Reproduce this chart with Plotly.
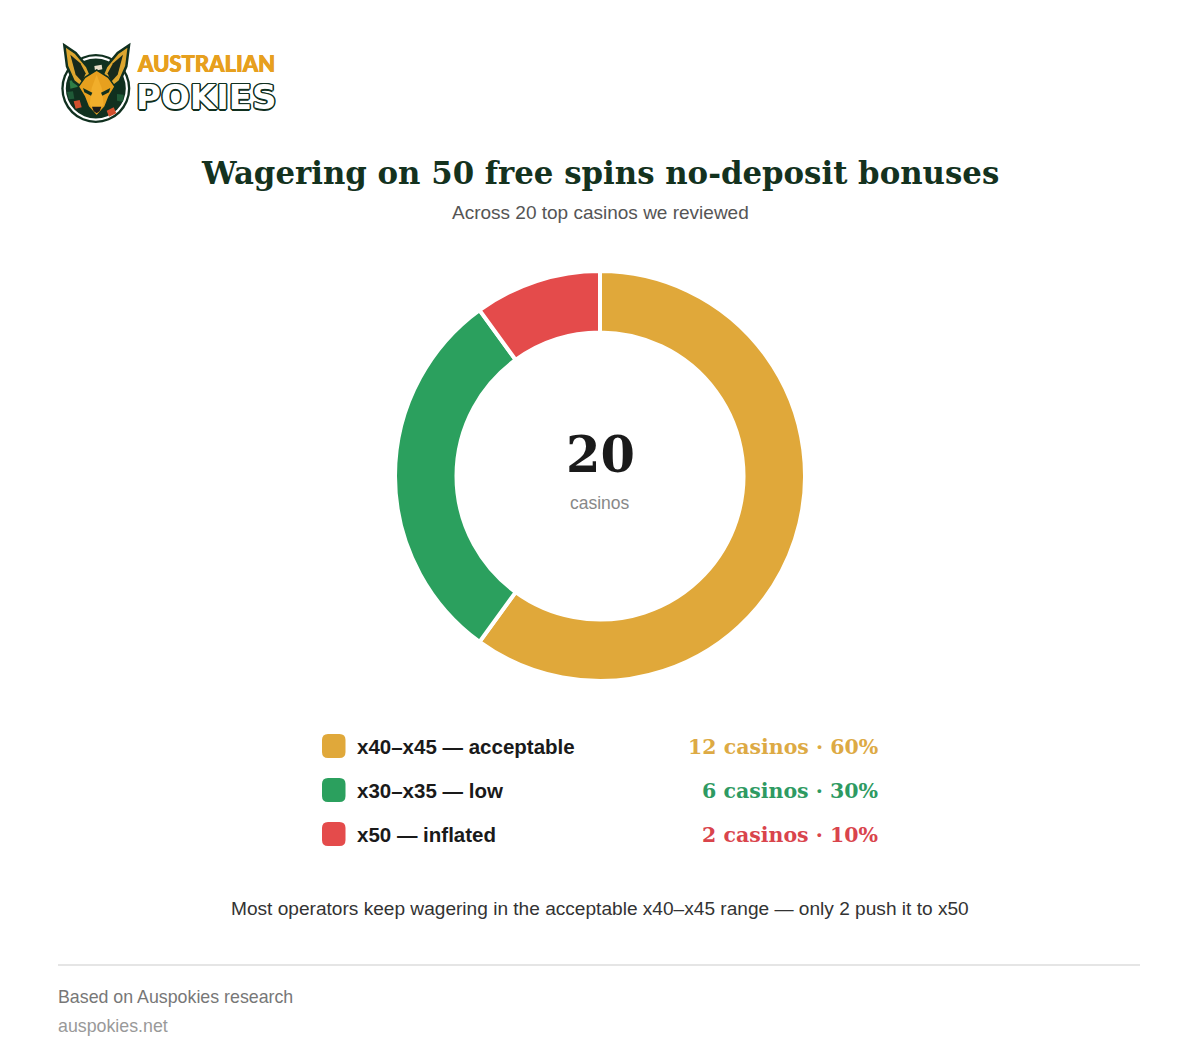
import plotly.graph_objects as go

# page has an 8px body margin, so the figure is a bit smaller than the window
W, H = 1184, 1046
OFFSET = 8

# chart data
categories = ["x40–x45 — acceptable", "x30–x35 — low", "x50 — inflated"]
casino_counts = [12, 6, 2]
percents = [60, 30, 10]
total_casinos = 20
colors = ["#E0A83A", "#2BA05E", "#E44B4B"]
value_colors = ["#DDAA44", "#2E9A62", "#D9444C"]

SERIF = "DejaVu Serif"
SANS = "Liberation Sans"


def px(x):
    return (x - OFFSET) / W


def py(y):
    return 1 - (y - OFFSET) / H


def add_text(fig, x, y, text, size, color, family=SANS, anchor="center", weight="normal", shadow=None):
    font = dict(family=family, size=size, color=color, weight=weight)
    if shadow:
        font["shadow"] = shadow
    fig.add_annotation(x=px(x), y=py(y), xref="paper", yref="paper", text=text, showarrow=False,
                       xanchor=anchor, yanchor="middle", font=font, borderpad=0, borderwidth=0)


def rounded_square(x0, y0, x1, y1, r):
    # path in paper coords, corners done with quadratic curves
    return (f"M {px(x0 + r)} {py(y0)} L {px(x1 - r)} {py(y0)} Q {px(x1)} {py(y0)} {px(x1)} {py(y0 + r)} "
            f"L {px(x1)} {py(y1 - r)} Q {px(x1)} {py(y1)} {px(x1 - r)} {py(y1)} "
            f"L {px(x0 + r)} {py(y1)} Q {px(x0)} {py(y1)} {px(x0)} {py(y1 - r)} "
            f"L {px(x0)} {py(y0 + r)} Q {px(x0)} {py(y0)} {px(x0 + r)} {py(y0)} Z")


def logo_poly(points):
    # points measured on the 3x zoom of the logo badge
    coords = [(px(55 + a / 3), py(38 + b / 3)) for a, b in points]
    return "M " + " L ".join(f"{a} {b}" for a, b in coords) + " Z"


fig = go.Figure()

fig.add_trace(go.Pie(
    labels=categories,
    values=casino_counts,
    hole=0.70,
    sort=False,
    direction="clockwise",
    rotation=0,
    textinfo="none",
    marker=dict(colors=colors, line=dict(color="white", width=4)),
    domain=dict(x=[px(395), px(805)], y=[py(681), py(271)]),
    showlegend=False,
))

shapes = []


def circle(cx, cy, r, fill):
    shapes.append(dict(type="circle", xref="paper", yref="paper", x0=px(cx - r), x1=px(cx + r),
                       y0=py(cy + r), y1=py(cy - r), fillcolor=fill, line=dict(width=0), layer="above"))


def poly(points, fill, line_color=None, line_width=0):
    shapes.append(dict(type="path", xref="paper", yref="paper", path=logo_poly(points), fillcolor=fill,
                       line=dict(color=line_color or fill, width=line_width), layer="above"))


def mirrored(points):
    return [(250 - a, b) for a, b in points]


# logo badge
DARK = "#10301F"
GOLD = "#E7A01E"
EAR = "#DDA62F"
circle(95.8, 88.5, 34.5, DARK)
circle(95.8, 88.5, 32.2, "#FFFFFF")
circle(95.8, 88.5, 30, DARK)

# tiles round the wheel
poly([(44, 128), (66, 124), (70, 146), (46, 152)], "#2E7D46")
poly([(36, 162), (54, 160), (58, 182), (42, 184)], "#1F5A37")
poly([(56, 190), (74, 186), (80, 208), (62, 212)], "#D2502E")
poly([(155, 218), (176, 208), (184, 226), (162, 236)], "#D2502E")
poly([(186, 168), (206, 170), (204, 192), (186, 188)], "#1F5A37")
poly([(118, 84), (140, 80), (142, 94), (120, 98)], "#E7DDC8")

# ears
ear_outline = [(28, 22), (62, 45), (96, 85), (112, 122), (85, 152), (56, 130), (36, 85)]
ear_inner = [(46, 50), (76, 76), (92, 106), (82, 132), (62, 110)]
for ear, inner in [(ear_outline, ear_inner), (mirrored(ear_outline), mirrored(ear_inner))]:
    poly(ear, EAR, DARK, 2.5)
    poly(inner, "#17291C")

# head
poly([(125, 96), (160, 118), (180, 146), (162, 176), (150, 206), (125, 234), (100, 206),
      (88, 176), (70, 146), (90, 118)], GOLD, DARK, 1.5)
poly([(125, 110), (140, 150), (146, 200), (125, 228), (104, 200), (110, 150)], "#F1AE2B")
eye = [(84, 150), (112, 164), (108, 173), (88, 163)]
poly(eye, DARK)
poly(mirrored(eye), DARK)
poly([(111, 206), (139, 206), (134, 220), (125, 226), (116, 220)], "#1B1B1B")

# legend swatches
row_y = [746, 790, 834]
for y, c in zip(row_y, colors):
    shapes.append(dict(type="path", xref="paper", yref="paper", path=rounded_square(322, y - 12, 345.5, y + 12, 6),
                       fillcolor=c, line=dict(width=0)))

# footer rule
shapes.append(dict(type="line", xref="paper", yref="paper", x0=px(58), x1=px(1140), y0=py(965), y1=py(965),
                   line=dict(color="#DDDDDD", width=1.5)))

fig.update_layout(shapes=shapes)

# logo wordmark
outline = ",".join(f"{a}px {b}px 0 {DARK}" for a, b in
                   [(1.5, 0), (-1.5, 0), (0, 1.5), (0, -1.5), (1, 1), (-1, 1), (1, -1), (-1, -1)])
add_text(fig, 137, 64, "AUSTRALIAN", 22, "#E7A01E", family="Lato", anchor="left", weight=900,
         shadow="0.4px 0 0 #E7A01E,-0.4px 0 0 #E7A01E")
add_text(fig, 136, 97, "POKIES", 34, "#FFFFFF", family="DejaVu Sans", anchor="left", weight="bold", shadow=outline)

# headings
add_text(fig, 600, 173, "Wagering on 50 free spins no-deposit bonuses", 30.8, "#14321E", family=SERIF, weight="bold")
add_text(fig, 600, 212, "Across 20 top casinos we reviewed", 19, "#555555")

# donut centre
add_text(fig, 600, 455, str(total_casinos), 49.5, "#1A1A1A", family=SERIF, weight="bold")
add_text(fig, 600, 503, "casinos", 17.5, "#888888")

# legend rows
for y, cat, n, pct, c in zip(row_y, categories, casino_counts, percents, value_colors):
    add_text(fig, 357, y, cat, 20.5, "#1A1A1A", anchor="left", weight="bold")
    add_text(fig, 878, y + 1, f"{n} casinos · {pct}%", 20.5, c, family=SERIF, anchor="right", weight="bold")

add_text(fig, 600, 908, "Most operators keep wagering in the acceptable x40–x45 range — only 2 push it to x50", 19.1, "#333333")
add_text(fig, 58, 997, "Based on Auspokies research", 17.8, "#777777", anchor="left")
add_text(fig, 58, 1026, "auspokies.net", 17.8, "#999999", anchor="left")

fig.update_layout(
    width=W,
    height=H,
    margin=dict(l=0, r=0, t=0, b=0),
    paper_bgcolor="white",
    plot_bgcolor="white",
)

fig.write_html("out.html")
